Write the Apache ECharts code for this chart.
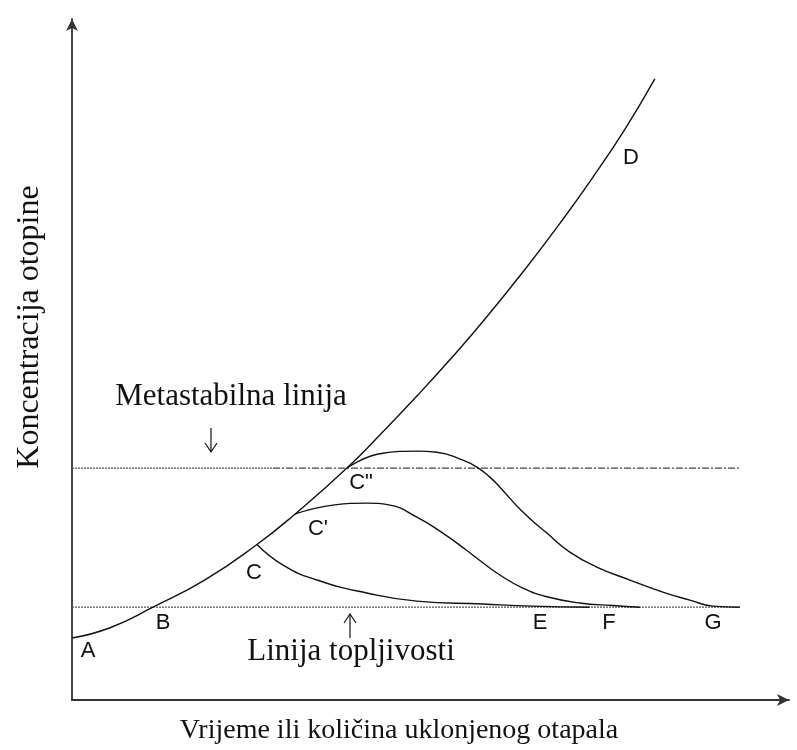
<!DOCTYPE html>
<html>
<head>
<meta charset="utf-8">
<script src="https://cdn.jsdelivr.net/npm/echarts@6/dist/echarts.min.js"></script>
<style>
html,body{margin:0;padding:0;background:#fff;}
#chart{width:797px;height:750px;}
</style>
</head>
<body>
<div id="chart"></div>
<script>
// Main concentration curve A-B-C-C'-C''-D
const mainCurve = [[0,6.68],[5.26,7.79],[11.2,10],[18.4,12.95],[25.59,16.76],[30.84,20.03],[38.04,25],[43.02,28.91],[47.72,32.76],[52.28,36.67],[56.85,40.79],[62.93,46.67],[67.5,51.37],[72.06,56.34],[76.49,61.51],[80.64,66.94]];
// Branch from C to E
const branchE = [[25.59,16.76],[29.2,14.54],[33.9,12.93],[40.8,11.53],[47.7,10.66],[56.8,10.34],[63.8,10.12],[71.6,10]];
// Branch from C' to F
const branchF = [[30.84,20.03],[36.1,21.0],[40.8,21.22],[43.98,21.0],[47.72,19.71],[51.31,17.99],[54.63,16.11],[56.43,15.03],[59.2,13.47],[62.38,12.06],[65.7,11.13],[70.26,10.45],[74.83,10.18],[78.56,10]];
// Branch from C'' to G
const branchG = [[38.04,25],[43.02,26.6],[47.72,26.82],[50.48,26.71],[54.08,25.85],[56.02,25.1],[57.81,24.02],[59.2,22.94],[62.38,20.25],[65.7,17.99],[68.88,15.94],[72.61,14.33],[77.18,12.93],[81.74,11.63],[85.48,10.77],[88.66,10.12],[92.39,10]];
// Reference levels
const solubilityLevel = 10;
const metastableLevel = 25;
const lineStartX = 0;
const metaSplitX = 27.8;
const lineEndX = 92.4;

const chart = echarts.init(document.getElementById('chart'));
const curveStyle = {color:'#111', width:1.4};
const serif = '"Liberation Serif","Times New Roman",serif';
const sans = '"Liberation Sans",Arial,sans-serif';

function letter(txt, x, y){
  return {type:'text', x:x, y:y, style:{text:txt, x:0, y:0, fill:'#111', font:'22px '+sans, align:'center', verticalAlign:'middle'}};
}
function curve(data){
  return {type:'line', data:data, smooth:0.5, showSymbol:false, silent:true, lineStyle:curveStyle};
}

chart.setOption({
  animation:false,
  backgroundColor:'#fff',
  grid:{left:72, right:8, top:19, bottom:50, containLabel:false},
  xAxis:{type:'value', min:0, max:99.2, axisLine:{show:true, symbol:['none','arrow'], symbolSize:[9,12], lineStyle:{color:'#333', width:1.8}},
    axisTick:{show:false}, axisLabel:{show:false}, splitLine:{show:false}},
  yAxis:{type:'value', min:0, max:73.4, axisLine:{show:true, symbol:['none','arrow'], symbolSize:[9,12], lineStyle:{color:'#333', width:1.8}},
    axisTick:{show:false}, axisLabel:{show:false}, splitLine:{show:false}},
  series:[
    {type:'line', data:[[lineStartX,solubilityLevel],[lineEndX,solubilityLevel]], showSymbol:false, silent:true, lineStyle:{color:'#555', width:1.3, type:[2,1]}},
    {type:'line', data:[[lineStartX,metastableLevel],[metaSplitX,metastableLevel]], showSymbol:false, silent:true, lineStyle:{color:'#555', width:1.3, type:[2,1]}},
    {type:'line', data:[[metaSplitX,metastableLevel],[lineEndX,metastableLevel]], showSymbol:false, silent:true, lineStyle:{color:'#444', width:1.2, type:[7,2,2,2]}},
    curve(mainCurve),
    curve(branchE),
    curve(branchF),
    curve(branchG)
  ],
  graphic:[
    {type:'text', x:399, y:731, style:{text:'Vrijeme ili količina uklonjenog otapala', fill:'#111', font:'28px '+serif, align:'center', verticalAlign:'middle'}},
    {type:'text', x:30, y:327, rotation:Math.PI/2, style:{text:'Koncentracija otopine', fill:'#111', font:'32px '+serif, align:'center', verticalAlign:'middle'}},
    {type:'text', x:231, y:397, style:{text:'Metastabilna linija', fill:'#111', font:'31px '+serif, align:'center', verticalAlign:'middle'}},
    {type:'text', x:351, y:652, style:{text:'Linija topljivosti', fill:'#111', font:'31px '+serif, align:'center', verticalAlign:'middle'}},
    {type:'polyline', shape:{points:[[211,428],[211,452]]}, style:{stroke:'#111', lineWidth:1.2, fill:null}},
    {type:'polyline', shape:{points:[[205,443],[211,452],[217,443]]}, style:{stroke:'#111', lineWidth:1.2, fill:null}},
    {type:'polyline', shape:{points:[[350,614],[350,638]]}, style:{stroke:'#111', lineWidth:1.2, fill:null}},
    {type:'polyline', shape:{points:[[344,623],[350,614],[356,623]]}, style:{stroke:'#111', lineWidth:1.2, fill:null}},
    letter('A', 88, 651),
    letter('B', 163, 623),
    letter('C', 254, 573),
    letter('C\'', 318, 529),
    letter('C"', 361, 483),
    letter('D', 631, 158),
    letter('E', 540, 623),
    letter('F', 609, 623),
    letter('G', 713, 623)
  ]
});
</script>
</body>
</html>
